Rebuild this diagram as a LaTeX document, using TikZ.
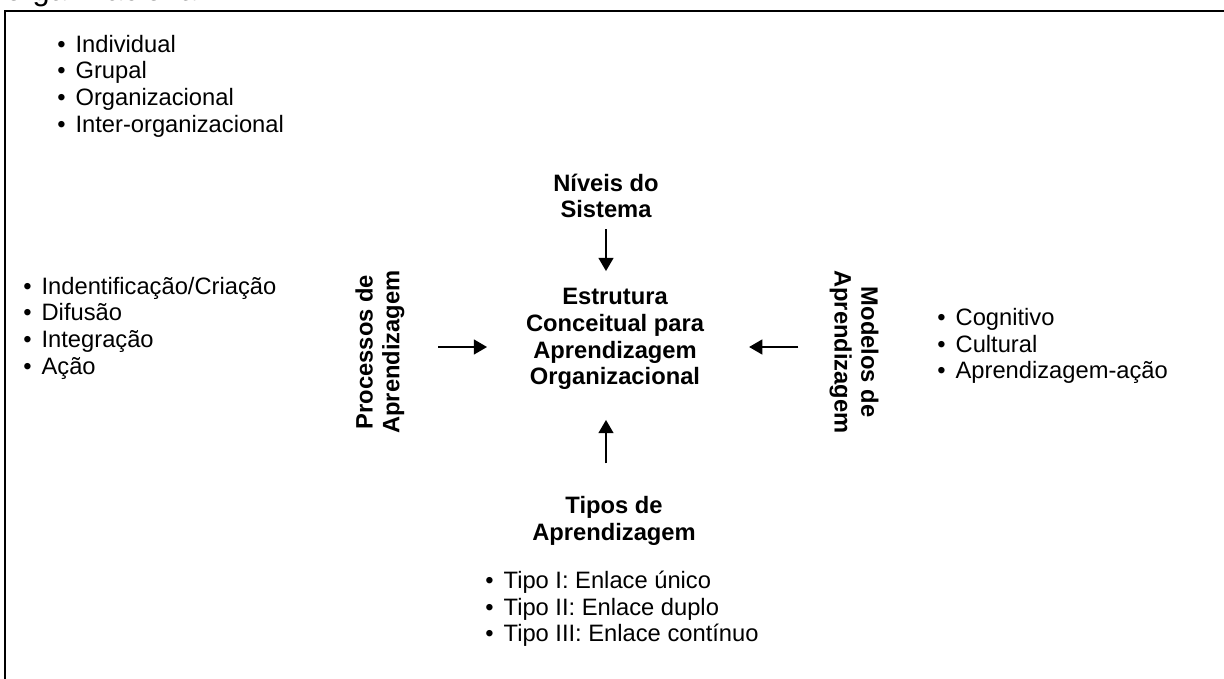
\documentclass[tikz,border=0pt]{standalone}
\usepackage{fontspec}
\setmainfont{Liberation Sans}
\usetikzlibrary{arrows.meta,positioning}

\newcommand{\itm}[1]{\makebox[10.4pt][l]{•}#1}

\tikzset{
  txt/.style={font=\fontsize{13.5}{15.2}\selectfont, inner sep=0pt},
  head/.style={txt, font=\fontsize{13.5}{15.2}\selectfont\bfseries, align=center},
  lst/.style={txt, align=left, anchor=west},
  arr/.style={-{Triangle[length=7.5pt,width=8.5pt]}, line width=0.9pt}
}

\begin{document}
\begin{tikzpicture}[x=0.02cm, y=-0.02cm]
  \useasboundingbox (0,0) rectangle (1224,679);
  \clip (0,0) rectangle (1224,679);
  % caption line cut off at the top
  \node[txt, font=\fontsize{17.5}{20}\selectfont, anchor=base west] (cap) at (5,1) {organizacional.};
  \draw[line width=1.1pt] (5,700) -- (5,11) -- (1240,11);

  % centre
  \node[head] (core) at (615,339) {Estrutura\\Conceitual para\\Aprendizagem\\Organizacional};

  % four sides
  \node[head] (niveis) at (606,196) {Níveis do\\Sistema};
  \node[head] (tipos) at (614,521) {Tipos de\\Aprendizagem};
  \node[head, rotate=90] (processos) at (380,352) {Processos de\\Aprendizagem};
  \node[head, rotate=-90] (modelos) at (854,352) {Modelos de\\Aprendizagem};

  % lists
  \node[lst] (lstTop) at (57,86) {\itm{Individual}\\\itm{Grupal}\\\itm{Organizacional}\\\itm{Inter-organizacional}};
  \node[lst] (lstLeft) at (23,328) {\itm{Indentificação/Criação}\\\itm{Difusão}\\\itm{Integração}\\\itm{Ação}};
  \node[lst] (lstRight) at (937,346) {\itm{Cognitivo}\\\itm{Cultural}\\\itm{Aprendizagem-ação}};
  \node[lst] (lstBottom) at (485,609) {\itm{Tipo I: Enlace único}\\\itm{Tipo II: Enlace duplo}\\\itm{Tipo III: Enlace contínuo}};

  % arrows into the centre
  \draw[arr, shorten <=6pt, shorten >=9.6pt] (niveis.south) -- (niveis.south |- core.north);
  \draw[arr, shorten <=18.7pt, shorten >=17pt] (tipos.north -| niveis.south) -- (niveis.south |- core.south);
  \draw[arr, shorten <=19pt, shorten >=22pt] (processos.south |- 0,347) -- (core.west |- 0,347);
  \draw[arr, shorten <=17.6pt, shorten >=25.5pt] (modelos.south |- 0,347) -- (core.east |- 0,347);
\end{tikzpicture}
\end{document}
